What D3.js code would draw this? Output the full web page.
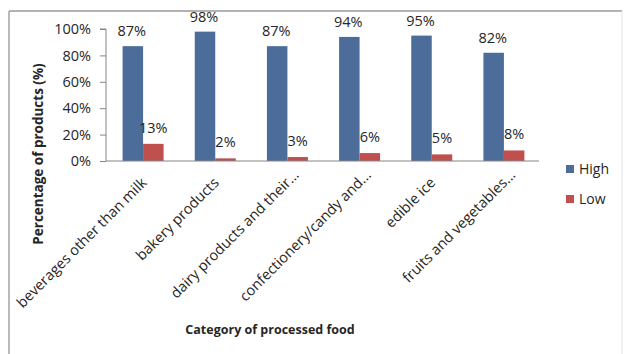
<!DOCTYPE html>
<html>
<head>
<meta charset="utf-8">
<script src="https://cdn.jsdelivr.net/npm/d3@7"></script>
<style>
  html, body { margin: 0; padding: 0; background: #fff; }
  svg { display: block; }
  text { font-family: "Open Sans", "DejaVu Sans", sans-serif; fill: #262626; }
</style>
</head>
<body>
<svg id="chart" width="625" height="354"></svg>
<script>
const categories = [
  "beverages other than milk",
  "bakery products",
  "dairy products and their...",
  "confectionery/candy and...",
  "edible ice",
  "fruits and vegetables..."
];
const seriesNames = ["High", "Low"];
const highValues = [87, 98, 87, 94, 95, 82];
const lowValues = [13, 2, 3, 6, 5, 8];
const yTicks = [0, 20, 40, 60, 80, 100];
const colors = ["#4C6D99", "#C0504D"];

const svg = d3.select("#chart");
const W = 625, H = 354;

// frame
svg.append("line").attr("x1", 9).attr("x2", 9).attr("y1", 11).attr("y2", H + 2)
  .attr("stroke", "#8c8c8c").attr("stroke-width", 1.2);
svg.append("line").attr("x1", 9).attr("x2", 622).attr("y1", 11).attr("y2", 11)
  .attr("stroke", "#9a9a9a").attr("stroke-width", 1.5);
svg.append("line").attr("x1", 622).attr("x2", 622).attr("y1", 11).attr("y2", H)
  .attr("stroke", "#e2e2e2").attr("stroke-width", 1);

const plot = { left: 106, right: 539, top: 29, bottom: 161 };

const x = d3.scaleBand().domain(categories).range([plot.left, plot.right]).paddingInner(0).paddingOuter(0);
const xs = d3.scaleBand().domain(seriesNames).range([0, x.bandwidth()]).paddingInner(0).paddingOuter(0.76);
const y = d3.scaleLinear().domain([0, 100]).range([plot.bottom, plot.top]);

const data = categories.map((c, i) => ({ cat: c, vals: [highValues[i], lowValues[i]] }));

// bars
const g = svg.append("g");
data.forEach(d => {
  d.vals.forEach((v, j) => {
    const bx = x(d.cat) + xs(seriesNames[j]) + 1;
    g.append("rect")
      .attr("x", bx).attr("width", xs.bandwidth())
      .attr("y", y(v)).attr("height", y(0) - y(v))
      .attr("fill", colors[j]);
    const offset = j === 0 ? 10 : 11;
    g.append("text")
      .attr("x", bx + xs.bandwidth() / 2 + (j === 1 ? 0 : -1))
      .attr("y", y(v) - offset)
      .attr("text-anchor", "middle")
      .attr("font-size", 14.5)
      .text(v + "%");
  });
});

// y axis
const yAxis = d3.axisLeft(y).tickValues(yTicks).tickFormat(d => d + "%").tickSize(6).tickPadding(9);
const ya = svg.append("g").attr("transform", `translate(${plot.left},0)`).call(yAxis);
ya.select(".domain").attr("stroke", "#868686").attr("d", `M-6,${plot.top}H0V${plot.bottom}`);
ya.selectAll(".tick line").attr("stroke", "#868686");
ya.selectAll(".tick text").attr("font-size", 14.5).attr("fill", "#262626")
  .style("font-family", '"Open Sans", sans-serif');

// x axis
const xAxis = d3.axisBottom(x).tickSize(0).tickFormat("");
const xa = svg.append("g").attr("transform", `translate(0,${plot.bottom})`).call(xAxis);
xa.select(".domain").attr("stroke", "#868686").attr("d", `M${plot.left},0H${plot.right}`);

// category labels
categories.forEach(c => {
  const cx = x(c) + x.bandwidth() / 2;
  const truncated = c.endsWith("...");
  svg.append("text")
    .attr("transform", `translate(${cx + 2},${plot.bottom + 19}) rotate(-45)`)
    .attr("text-anchor", "end")
    .attr("dx", truncated ? 11 : 0)
    .attr("dy", "0.35em")
    .attr("font-size", 14.5)
    .text(c);
});

// axis titles
svg.append("text")
  .attr("transform", `translate(43,${154}) rotate(-90)`)
  .attr("text-anchor", "middle")
  .attr("font-size", 13.5)
  .attr("font-weight", "bold")
  .text("Percentage of products (%)");

svg.append("text")
  .attr("x", 270).attr("y", 334)
  .attr("text-anchor", "middle")
  .attr("font-size", 12.5)
  .attr("font-weight", "bold")
  .text("Category of processed food");

// legend
const legend = svg.append("g");
seriesNames.forEach((s, i) => {
  const ly = 169 + i * 30;
  legend.append("rect").attr("x", 566).attr("y", ly - 4).attr("width", 8).attr("height", 8).attr("fill", colors[i]);
  legend.append("text").attr("x", 579).attr("y", ly).attr("dy", "0.35em").attr("font-size", 14).text(s);
});
</script>
</body>
</html>
